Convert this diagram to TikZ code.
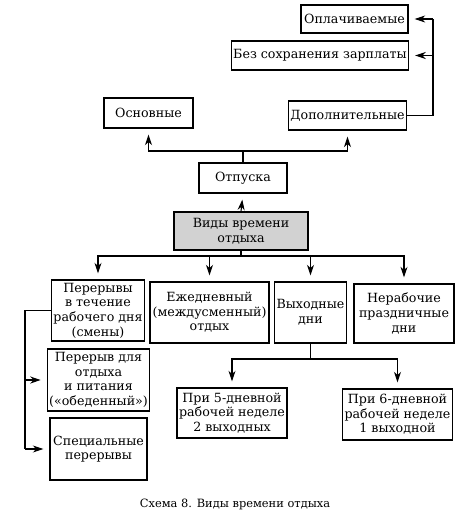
\documentclass[tikz,border=0pt]{standalone}
\usepackage{fontspec}
\setmainfont{DejaVu Serif}
\usepackage{tikz}
\usetikzlibrary{calc,shapes,arrows.meta}

\begin{document}
\begin{tikzpicture}[x=0.02cm,y=-0.02cm,font=\fontsize{7.2}{8.3}\selectfont]
	\tikzstyle{box} = [rectangle, draw, text centered, align=center, inner sep=1pt, line width=0.6pt]
	\tikzstyle{main} = [box, fill=gray!35, line width=0.9pt]
	\tikzstyle{connector} = [draw, -{Stealth[length=6pt,width=4pt]}, shorten >=3.5pt, line width=0.6pt]
	\tikzstyle{line} = [draw, line width=0.6pt]
\useasboundingbox (0,0) rectangle (463,520);
\node [box, minimum width=2.14cm, minimum height=0.56cm] at (354.5,19) (opl) {Оплачиваемые};
\node [box, minimum width=3.48cm, minimum height=0.58cm] at (320,55.5) (bez) {Без сохранения зарплаты};
\node [box, minimum width=1.78cm, minimum height=0.6cm] at (148.5,113) (osn) {Основные};
\node [box, minimum width=2.34cm, minimum height=0.58cm] at (347.5,115.5) (dop) {Дополнительные};
\node [box, minimum width=1.76cm, minimum height=0.6cm] at (243,178) (otp) {Отпуска};
\node [main, minimum width=2.68cm, minimum height=0.76cm] at (241,231) (vidy) {Виды времени\\отдыха};
\node [box, minimum width=1.84cm, minimum height=1.22cm] at (98,310.5) (per) {Перерывы\\в течение\\рабочего дня\\(смены)};
\node [box, minimum width=2.38cm, minimum height=1.22cm] at (209.5,312.5) (ezh) {Ежедневный\\(междусменный)\\отдых};
\node [box, minimum width=1.38cm, minimum height=1.22cm] at (310.5,312.5) (vyh) {Выходные\\дни};
\node [box, minimum width=2.0cm, minimum height=1.18cm] at (404,313.5) (nerab) {Нерабочие\\праздничные\\дни};
\node [box, minimum width=1.9cm, minimum height=1.24cm] at (98.5,380) (pit) {Перерыв для\\отдыха\\и питания\\(«обеденный»)};
\node [box, minimum width=1.94cm, minimum height=1.24cm] at (98.5,449) (spec) {Специальные\\перерывы};
\node [box, minimum width=2.2cm, minimum height=1.0cm] at (232,413) (pri5) {При 5-дневной\\рабочей неделе\\2 выходных};
\node [box, minimum width=2.18cm, minimum height=1.02cm] at (397.5,414.5) (pri6) {При 6-дневной\\рабочей неделе\\1 выходной};
\node [font=\fontsize{6.5}{8}\selectfont] at (235,504) (caption) {Схема 8. Виды времени отдыха};
% branch points
\coordinate (otpfork) at (243,151);
\coordinate (rail) at (433,19);
\coordinate (vfork) at (241,256);
\coordinate (lrail) at (25,310.5);
\coordinate (vyhfork) at (310.5,359);
% vacations
\path [line] (otp.north) -- (otpfork);
\path [connector] (otpfork) -| (osn.south);
\path [connector] (otpfork) -| (dop.south);
\path [line] (dop.east) -| (rail);
\path [connector] (rail) -- (opl.east);
\path [connector] (rail |- bez.east) -- (bez.east);
\path [connector] (vidy.north) -- (otp.south);
% kinds of rest
\path [line] (vidy.south) -- (vfork);
\path [connector] (vfork) -| (per.north);
\path [connector] (vfork) -| (ezh.north);
\path [connector] (vfork) -| (vyh.north);
\path [connector] (vfork) -| (nerab.north);
% breaks
\path [line] (per.west) -- (lrail) -- (lrail |- spec.west);
\path [connector] (lrail |- pit.west) -- (pit.west);
\path [connector] (lrail |- spec.west) -- (spec.west);
% days off
\path [line] (vyh.south) -- (vyhfork);
\path [connector] (vyhfork) -| (pri5.north);
\path [connector] (vyhfork) -| (pri6.north);
\end{tikzpicture}
\end{document}
